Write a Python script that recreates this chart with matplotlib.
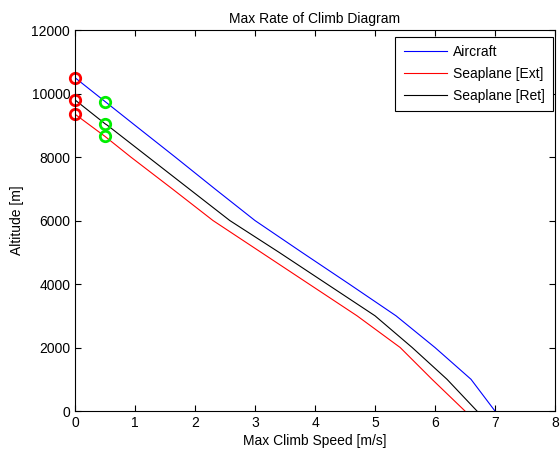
import matplotlib
matplotlib.use("Agg")
import matplotlib.pyplot as plt

plt.rcParams['font.family'] = ['Liberation Sans', 'DejaVu Sans']

# Data
alt_aircraft = [0, 1000, 2000, 3000, 4000, 5000, 6000, 7000, 8000, 9000, 9750, 10500]
spd_aircraft = [7.0, 6.6, 6.0, 5.35, 4.57, 3.78, 3.0, 2.33, 1.67, 1.0, 0.5, 0.0]

alt_ext = [0, 1000, 2000, 3000, 4000, 5000, 6000, 7000, 8000, 8650, 9350]
spd_ext = [6.5, 5.95, 5.42, 4.7, 3.9, 3.1, 2.3, 1.62, 0.93, 0.5, 0.0]

alt_ret = [0, 1000, 2000, 3000, 4000, 5000, 6000, 7000, 8000, 9000, 9050, 9800]
spd_ret = [6.7, 6.2, 5.62, 5.0, 4.2, 3.4, 2.58, 1.9, 1.22, 0.54, 0.5, 0.0]

abs_ceiling_spd = [0.0, 0.0, 0.0]
abs_ceiling_alt = [10500, 9350, 9800]
serv_ceiling_spd = [0.5, 0.5, 0.5]
serv_ceiling_alt = [9750, 8650, 9050]

labels = ["Aircraft", "Seaplane [Ext]", "Seaplane [Ret]"]

fig = plt.figure(figsize=(5.6, 4.54), dpi=100)
ax = fig.add_axes([0.134, 0.0947, 0.857, 0.839])

ax.plot(spd_aircraft, alt_aircraft, color='blue', lw=0.8, label=labels[0])
ax.plot(spd_ext, alt_ext, color='red', lw=0.8, label=labels[1])
ax.plot(spd_ret, alt_ret, color='black', lw=0.8, label=labels[2])

ax.plot(abs_ceiling_spd, abs_ceiling_alt, 'o', mfc='none', mec='red', mew=2, ms=7.5, clip_on=False)
ax.plot(serv_ceiling_spd, serv_ceiling_alt, 'o', mfc='none', mec='#00ee00', mew=2, ms=7.5, clip_on=False)

ax.set_xlim(0, 8)
ax.set_ylim(0, 12000)
ax.set_xticks(range(0, 9))
ax.set_yticks(range(0, 12001, 2000))
ax.tick_params(direction='in', top=True, right=True, length=4, labelsize=10, width=0.8)
for s in ax.spines.values():
    s.set_linewidth(0.8)

ax.set_title("Max Rate of Climb Diagram", fontsize=10, pad=5)
ax.set_xlabel("Max Climb Speed [m/s]", fontsize=10, labelpad=3)
ax.set_ylabel("Altitude [m]", fontsize=10, labelpad=5)

leg = ax.legend(loc='upper right', bbox_to_anchor=(0.996, 0.982), fontsize=10,
                fancybox=False, framealpha=1, edgecolor='black', borderaxespad=0,
                handlelength=3.1, handletextpad=0.45, labelspacing=0.55, borderpad=0.6)
leg.get_frame().set_linewidth(0.8)

fig.savefig("out.png", dpi=100)
